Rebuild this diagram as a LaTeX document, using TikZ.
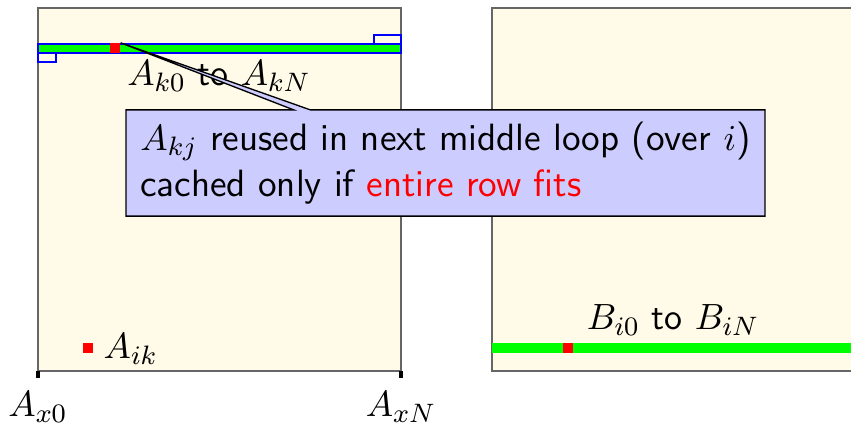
\documentclass[tikz,border=0pt]{standalone}
\usepackage{tikz}
\usetikzlibrary{shapes.callouts}
\definecolor{matFill}{HTML}{FFFBE8}
\colorlet{noteFill}{blue!20}
\newcommand{\lblfont}{\sffamily\fontsize{11}{13.5}\selectfont}
\newcommand{\notefont}{\sffamily\fontsize{11.4}{14}\selectfont}

\begin{document}
\begin{tikzpicture}[x=0.3pt,y=-0.3pt,
matBox/.style={draw=black!60,fill=matFill},
rowBar/.style={fill=green},
cacheLine/.style={draw=blue,thick},
cell/.style={fill=red,minimum size=3pt,inner sep=0},
lbl/.style={font=\lblfont,inner sep=0},
note/.style={rectangle callout,draw,fill=noteFill,font=\notefont,
    align=left,inner xsep=4.3pt,inner ysep=3.5pt,callout pointer width=5pt}
]
\useasboundingbox (0,0) rectangle (851,426);
\clip (0,0) rectangle (851,426);
% matrix A and matrix B
\draw[matBox] (38,8) rectangle (401,371);
\draw[matBox] (492,8) rectangle (870,371);
% row k of A
\fill[rowBar] (38,44) rectangle (401,53);
\draw[cacheLine] (38,44) rectangle (401,53);
\draw[cacheLine] (38,53) rectangle (56,62);
\draw[cacheLine] (374,35) rectangle (401,44);
\node[cell] (akj) at (115,48.5) {};
\node[lbl] (rowA) at (219,76) {$A_{k0}$ to $A_{kN}$};
% element A_ik
\node[cell] (aik) at (88,348) {};
\node[lbl,anchor=west] (aikLbl) at (103,349) {$A_{ik}$};
% row i of B
\fill[rowBar] (492,343) rectangle (870,353);
\node[cell] (bij) at (568,348) {};
\node[lbl] (rowB) at (673,320) {$B_{i0}$ to $B_{iN}$};
% column ticks
\coordinate (x0) at (38,371);
\coordinate (xN) at (401,371);
\draw[line width=1.2pt] (x0) -- ++(0,7) (xN) -- ++(0,7);
\node[lbl] (x0Lbl) at (38,407) {$A_{x0}$};
\node[lbl] (xNLbl) at (401,407) {$A_{xN}$};
\node[note,callout absolute pointer={(akj.north east)}] (reuse) at (445.5,163)
    {$A_{kj}$ reused in next middle loop (over $i$)\\
     cached only if \textcolor{red}{entire row fits}};
\end{tikzpicture}
\end{document}
